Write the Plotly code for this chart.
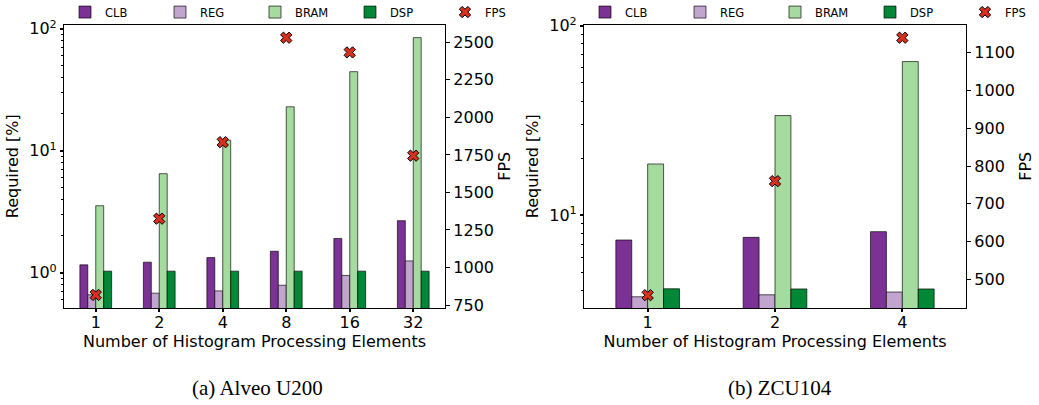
import plotly.graph_objects as go

# ---------------- data ----------------
pe_a = ["1", "2", "4", "8", "16", "32"]
clb_a = [1.16, 1.22, 1.33, 1.50, 1.91, 2.67]
reg_a = [0.66, 0.68, 0.71, 0.79, 0.95, 1.25]
bram_a = [3.54, 6.48, 12.2, 22.9, 44.4, 84.4]
dsp_a = [1.03, 1.03, 1.03, 1.03, 1.03, 1.03]
fps_a = [817, 1325, 1835, 2531, 2433, 1745]

pe_b = ["1", "2", "4"]
clb_b = [7.38, 7.62, 8.17]
reg_b = [3.70, 3.79, 3.92]
bram_b = [18.6, 33.5, 64.6]
dsp_b = [4.08, 4.07, 4.07]
fps_b = [458, 760, 1140]

series_names = ["CLB", "REG", "BRAM", "DSP"]
colors = ["#7b3294", "#c2a5cf", "#a6dba0", "#008837"]
fps_color = "#d7301f"

W, H = 1039, 405
FONT = "DejaVu Sans"

def px_x(p):
    return p / W

def px_y(p):
    return 1 - p / H

fig = go.Figure()

def add_panel(xs, series, fps, xa, ya, ya2, legend):
    for name, vals, col in zip(series_names, series, colors):
        fig.add_trace(go.Bar(
            x=xs, y=vals, name=name, xaxis=xa, yaxis=ya,
            marker=dict(color=col, line=dict(color="rgba(0,0,0,0.65)", width=1)),
            legend=legend, showlegend=True))
    fig.add_trace(go.Scatter(
        x=xs, y=fps, name="FPS", mode="markers", xaxis=xa, yaxis=ya2,
        marker=dict(symbol="x", size=10, color=fps_color,
                    line=dict(color="black", width=1)),
        legend=legend, showlegend=True))

add_panel(pe_a, [clb_a, reg_a, bram_a, dsp_a], fps_a, "x", "y", "y2", "legend")
add_panel(pe_b, [clb_b, reg_b, bram_b, dsp_b], fps_b, "x2", "y3", "y4", "legend2")

ydom = [px_y(308), px_y(24.5)]
tickfont = dict(family=FONT, size=16, color="black")
titlefont = dict(family=FONT, size=16, color="black")

def minor_vals(lo, hi):
    v = []
    for d in range(lo, hi):
        for m in range(2, 10):
            v.append(m * 10 ** d)
    return v

common_x = dict(type="category", showline=True, linecolor="black", linewidth=1.2,
                mirror=True, ticks="outside", ticklen=3, tickwidth=2, tickcolor="black",
                tickfont=tickfont, showgrid=False, zeroline=False, ticklabelstandoff=-3,
                title=dict(text="Number of Histogram Processing Elements", font=titlefont, standoff=0))

legend_common = dict(orientation="h", y=1.006, xanchor="left", yanchor="top",
                     font=dict(family=FONT, size=11.5, color="black"),
                     entrywidth=50, entrywidthmode="pixels", bgcolor="rgba(0,0,0,0)",
                     traceorder="normal", itemclick=False, tracegroupgap=0)

fig.update_layout(
    width=W, height=H,
    margin=dict(l=0, r=0, t=0, b=0, autoexpand=False),
    paper_bgcolor="white", plot_bgcolor="white",
    font=dict(family=FONT, color="black"),
    barmode="group", bargap=0.5, bargroupgap=0,
    xaxis=dict(common_x, domain=[px_x(64), px_x(445)], anchor="y", range=[-0.5, 5.5]),
    xaxis2=dict(common_x, domain=[px_x(584), px_x(966)], anchor="y3", range=[-0.5, 2.5]),
    yaxis=dict(type="log", domain=ydom, anchor="x", range=[-0.289, 2.034],
               tickvals=[1, 10, 100], ticktext=["10<sup>0</sup>", "10<sup>1</sup>", "10<sup>2</sup>"],
               ticks="outside", ticklen=3, tickwidth=2, tickcolor="black",
               minor=dict(tickvals=minor_vals(-1, 2), ticks="outside", ticklen=2, tickwidth=1, tickcolor="black"),
               showline=True, linecolor="black", linewidth=1.2, showgrid=False, zeroline=False,
               tickfont=tickfont, title=dict(text="Required [%]", font=titlefont, standoff=6)),
    yaxis2=dict(overlaying="y", side="right", anchor="x", range=[730, 2619],
                tickvals=[750, 1000, 1250, 1500, 1750, 2000, 2250, 2500],
                ticks="outside", ticklen=4, tickwidth=1, tickcolor="black",
                showline=True, linecolor="black", linewidth=1.2, showgrid=False, zeroline=False,
                tickfont=tickfont, title=dict(text="FPS", font=titlefont, standoff=5)),
    yaxis3=dict(type="log", domain=ydom, anchor="x2", range=[0.509, 2.006],
                tickvals=[10, 100], ticktext=["10<sup>1</sup>", "10<sup>2</sup>"],
                ticks="outside", ticklen=3, tickwidth=2, tickcolor="black",
                minor=dict(tickvals=minor_vals(0, 2), ticks="outside", ticklen=2, tickwidth=1, tickcolor="black"),
                showline=True, linecolor="black", linewidth=1.2, showgrid=False, zeroline=False,
                tickfont=tickfont, title=dict(text="Required [%]", font=titlefont, standoff=6)),
    yaxis4=dict(overlaying="y3", side="right", anchor="x2", range=[424, 1175],
                tickvals=[500, 600, 700, 800, 900, 1000, 1100],
                ticks="outside", ticklen=4, tickwidth=1, tickcolor="black",
                showline=True, linecolor="black", linewidth=1.2, showgrid=False, zeroline=False,
                tickfont=tickfont, title=dict(text="FPS", font=titlefont, standoff=5)),
    legend=dict(legend_common, x=px_x(65)),
    legend2=dict(legend_common, x=px_x(585)),
    annotations=[
        dict(text="(a) Alveo U200", x=px_x(257), y=px_y(388), xref="paper", yref="paper",
             showarrow=False, font=dict(family="Liberation Serif", size=21, color="black"),
             xanchor="center", yanchor="middle"),
        dict(text="(b) ZCU104", x=px_x(780), y=px_y(388), xref="paper", yref="paper",
             showarrow=False, font=dict(family="Liberation Serif", size=21, color="black"),
             xanchor="center", yanchor="middle"),
    ],
)

fig.write_html("out.html")
